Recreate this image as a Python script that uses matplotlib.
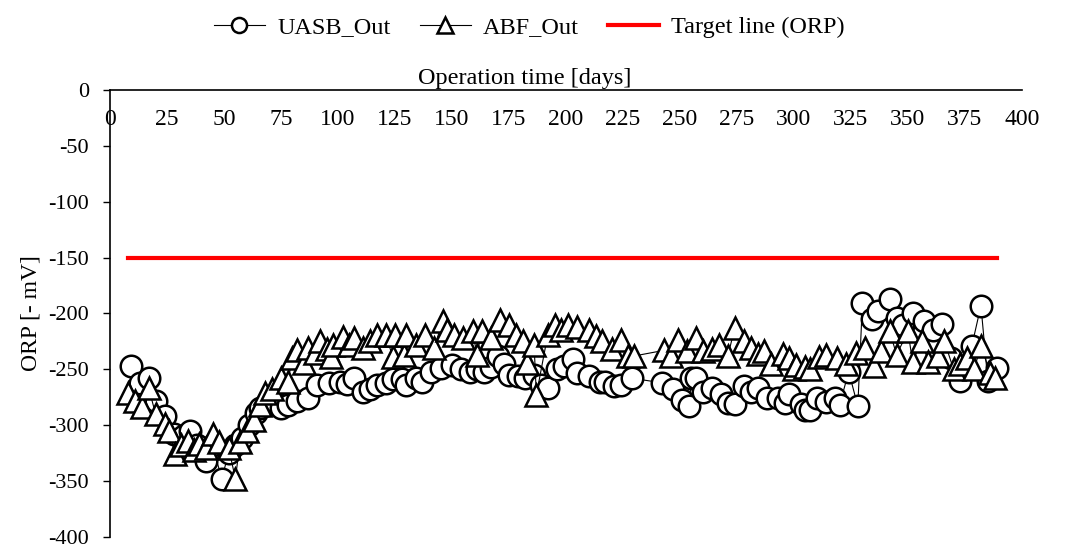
import matplotlib
matplotlib.use('Agg')
import matplotlib.pyplot as plt
import numpy as np

plt.rcParams['font.family'] = ['Liberation Serif', 'DejaVu Serif']
plt.rcParams['axes.unicode_minus'] = False

# UASB effluent ORP (circles)
uasb_day = [9, 13, 17, 20, 24, 28, 32, 35, 38, 42, 45, 49, 52, 55, 58, 61, 64, 66, 69, 72,
            75, 78, 82, 87, 91, 96, 101, 104, 107, 111, 114, 117, 121, 124, 128, 130, 134, 137,
            141, 145, 150, 154, 158, 161, 164, 167, 170, 173, 175, 179, 182, 186, 189, 192,
            196, 199, 203, 205, 210, 215, 217, 221, 224, 229, 242, 247, 251, 254, 255, 257,
            260, 264, 268, 271, 274, 278, 281, 284, 288, 293, 296, 298, 303, 305, 307, 310,
            314, 318, 320, 324, 328, 330, 334, 337, 342, 345, 348, 352, 357, 361, 365, 369,
            373, 378, 382, 385, 389]
uasb_orp = [-247, -262, -258, -278, -292, -308, -310, -305, -318, -332, -318, -348, -325, -318,
            -311, -300, -289, -285, -282, -278, -285, -282, -278, -276, -264, -262, -261, -263,
            -258, -270, -268, -264, -262, -259, -259, -264, -258, -261, -252, -249, -246, -250,
            -252, -250, -252, -248, -238, -245, -255, -256, -258, -255, -264, -267, -250, -247,
            -241, -253, -256, -261, -261, -265, -264, -258, -262, -268, -277, -283, -258, -258,
            -270, -267, -272, -280, -281, -265, -270, -267, -276, -276, -280, -272, -281, -286,
            -286, -276, -279, -276, -282, -252, -283, -191, -205, -198, -187, -204, -210, -200,
            -207, -215, -209, -240, -260, -229, -193, -260, -249]

# ABF effluent ORP (triangles)
abf_day = [8, 11, 14, 17, 20, 24, 26, 28.5, 31, 34, 37, 39, 42, 45, 48, 52, 55, 57, 60, 63,
           66, 68, 71, 75, 78, 80, 82, 85, 87, 90, 92, 95, 97, 98, 102, 105, 107, 111, 114,
           117, 121, 124, 125, 129, 130, 134, 138, 142, 146, 148, 151, 155, 159, 161, 163,
           167, 171, 175, 178, 181, 183, 186, 187, 192, 195, 198, 201, 205, 210, 213, 216,
           220, 224, 227, 230, 243, 246, 249, 253, 257, 260, 264, 267, 271, 274, 278, 281,
           284, 287, 290, 295, 298, 300, 301, 305, 307, 311, 314, 319, 323, 327, 331, 335,
           338, 342, 345, 350, 352, 356, 359, 363, 366, 370, 373, 376, 379, 382, 386, 388]
abf_orp = [-271, -278, -284, -267, -290, -299, -305, -326, -318, -314, -322, -317, -320, -308,
           -315, -320, -348, -315, -305, -295, -282, -271, -268, -258, -261, -240, -233, -244,
           -231, -235, -225, -232, -239, -228, -221, -228, -222, -231, -225, -219, -219, -239,
           -219, -237, -219, -228, -219, -231, -207, -215, -219, -222, -216, -237, -216, -222,
           -206, -210, -219, -225, -244, -228, -273, -219, -210, -215, -210, -212, -215, -220,
           -225, -232, -224, -238, -238, -233, -238, -224, -234, -222, -234, -232, -228, -238,
           -213, -225, -231, -236, -234, -245, -236, -240, -250, -246, -248, -250, -239, -237,
           -240, -245, -235, -231, -247, -234, -216, -237, -216, -243, -225, -243, -238, -225,
           -250, -245, -240, -250, -229, -253, -258]

target_days = [8, 389]
target_orp = [-150, -150]

fs = 17

fig = plt.figure(figsize=(10.65, 5.49), dpi=100)
ax = fig.add_axes([0.1033, 0.0219, 0.8563, 0.8142])

ax.plot(uasb_day, uasb_orp, color='black', lw=0.8, marker='o', ms=15.5,
        mfc='white', mec='black', mew=1.8, label='UASB_Out', zorder=3)
ax.plot(abf_day, abf_orp, color='black', lw=0.8, marker='^', ms=16,
        mfc='white', mec='black', mew=1.8, label='ABF_Out', zorder=4)
ax.plot(target_days, target_orp, color='#FF0000', lw=3, label='Target line (ORP)', zorder=2)

ax.set_xlim(0, 400)
ax.set_ylim(-400, 0)
ax.set_xticks(np.arange(0, 401, 25))
ax.set_yticks(np.arange(-400, 1, 50))

ax.xaxis.set_ticks_position('top')
ax.xaxis.set_label_position('top')
ax.tick_params(axis='x', direction='in', length=0, pad=-29, labelsize=fs)
ax.tick_params(axis='y', direction='out', length=5, width=1, labelsize=16, pad=10)

for s in ['right', 'bottom']:
    ax.spines[s].set_visible(False)
ax.spines['top'].set_linewidth(1.2)
ax.spines['left'].set_linewidth(1.2)

ax.set_xlabel('Operation time [days]', fontsize=fs + 0.5)
ax.xaxis.set_label_coords(0.455, 1.013)
ax.set_ylabel('ORP [- mV]', fontsize=fs)
ax.yaxis.set_label_coords(-0.075, 0.5)

fig.legend(loc='upper center', bbox_to_anchor=(0.497, 1.01), ncol=3, frameon=False,
           fontsize=fs + 0.5, markerscale=0.7, handlelength=2.1, columnspacing=1.2,
           handletextpad=0.5)

fig.savefig('out.png', dpi=100)
